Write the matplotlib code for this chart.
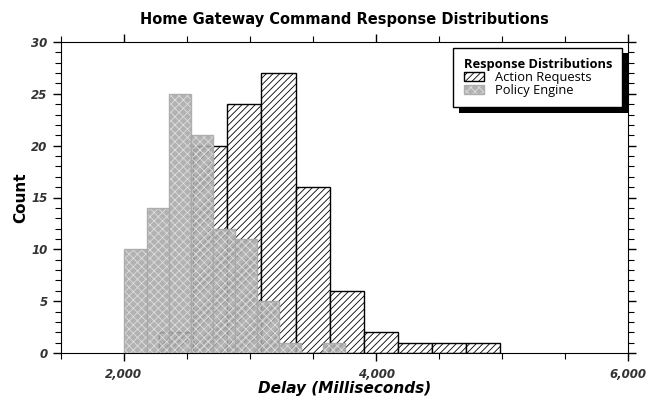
import numpy as np
import matplotlib
matplotlib.use('Agg')
import matplotlib.pyplot as plt
import matplotlib.patheffects as pe
from matplotlib.ticker import MultipleLocator, FuncFormatter

# counts per bin
action_counts = [2, 20, 24, 27, 16, 6, 2, 1, 1, 1]
action_edges = np.linspace(2278, 4986, 11)

policy_counts = [10, 14, 25, 21, 12, 11, 5, 1, 0, 1]
policy_edges = np.linspace(2005, 3757, 11)

plt.rcParams['hatch.linewidth'] = 0.6

fig = plt.figure(figsize=(6.47, 4.0), dpi=100)
ax = fig.add_axes([0.094, 0.1175, 0.877, 0.7775])

# Action Requests: white with hatch
ax.bar(action_edges[:-1], action_counts, width=np.diff(action_edges), align='edge',
       facecolor='white', edgecolor='black', hatch='/////', linewidth=1.0,
       label='Action Requests', zorder=2)

# Policy Engine: gray dotted pattern, slightly see-through
bars = ax.bar(policy_edges[:-1], policy_counts, width=np.diff(policy_edges), align='edge',
              facecolor='#a8a8a8', edgecolor='#a8a8a8', hatch='xxxx', linewidth=1.0,
              alpha=0.88, label='Policy Engine', zorder=3)
for b in bars:
    b._hatch_color = matplotlib.colors.to_rgba('#dedede')

ax.set_xlim(1500, 6000)
ax.set_ylim(0, 30)

ax.xaxis.set_major_locator(MultipleLocator(2000))
ax.xaxis.set_minor_locator(MultipleLocator(500))
ax.yaxis.set_major_locator(MultipleLocator(5))
ax.yaxis.set_minor_locator(MultipleLocator(1))
ax.xaxis.set_major_formatter(FuncFormatter(lambda v, p: '{:,.0f}'.format(v)))

ax.tick_params(which='both', direction='out', top=True, right=True, colors='black',
               labelcolor='#333333')
ax.tick_params(which='major', length=6, width=1)
ax.tick_params(which='minor', length=4, width=0.8)
ax.tick_params(axis='x', which='both', pad=5)
for lab in ax.get_xticklabels() + ax.get_yticklabels():
    lab.set_fontweight('bold')
    lab.set_fontstyle('italic')
    lab.set_fontsize(8.5)

ax.set_title('Home Gateway Command Response Distributions', fontsize=10.5,
             fontweight='bold', pad=13)
ax.set_ylabel('Count', fontsize=11, fontweight='bold', labelpad=2)
ax.set_xlabel('Delay (Milliseconds)', fontsize=11, fontweight='bold',
              fontstyle='italic', labelpad=0)

leg = ax.legend(title='Response Distributions', loc='upper right',
                prop={'family': 'Open Sans', 'size': 9.3},
                title_fontproperties={'family': 'Open Sans', 'weight': 'bold', 'size': 9.3},
                fancybox=False, shadow=False,
                framealpha=1, edgecolor='black', handlelength=1.6, handleheight=0.7,
                borderpad=0.8, labelspacing=0.0, handletextpad=0.8,
                borderaxespad=0.45)
leg._legend_box.align = 'left'
leg.get_frame().set_linewidth(1.0)
leg.get_frame().set_path_effects([
    pe.SimplePatchShadow(offset=(4, -4), shadow_rgbFace='black', alpha=1.0),
    pe.Normal()])

fig.savefig('out.png', dpi=100)
